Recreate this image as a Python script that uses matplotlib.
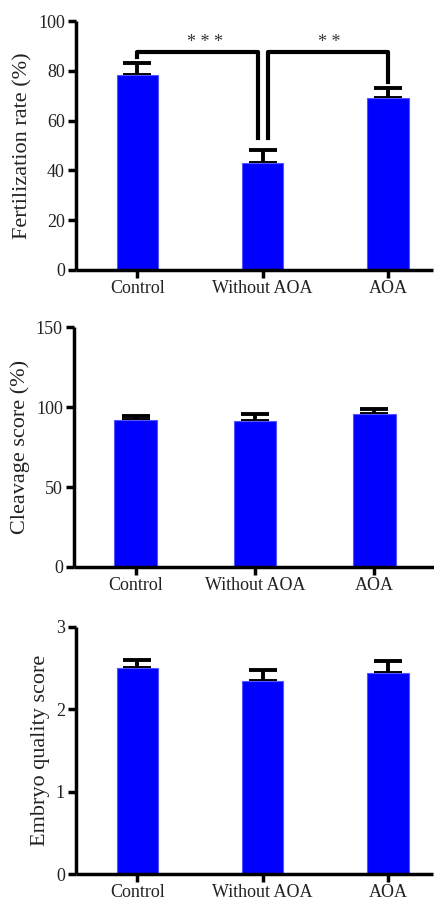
import matplotlib
matplotlib.use("Agg")
import matplotlib.pyplot as plt

plt.rcParams['font.family'] = ['Liberation Serif', 'DejaVu Serif']

groups = ["Control", "Without AOA", "AOA"]

fert_mean = [78.4, 42.8, 69.2]
fert_err = [4.7, 5.4, 4.0]

cleav_mean = [92.0, 91.3, 95.7]
cleav_err = [2.5, 4.4, 3.1]

embryo_mean = [2.50, 2.34, 2.44]
embryo_err = [0.10, 0.14, 0.15]

panels = [
    dict(mean=fert_mean, err=fert_err, ylabel="Fertilization rate (%)",
         ylim=(0, 100), yticks=[0, 20, 40, 60, 80, 100],
         rect=[0.175, 0.7007, 0.823, 0.276], xlim=(-0.49, 2.36), width=0.33),
    dict(mean=cleav_mean, err=cleav_err, ylabel="Cleavage score (%)",
         ylim=(0, 150), yticks=[0, 50, 100, 150],
         rect=[0.1705, 0.3714, 0.8295, 0.266], xlim=(-0.517, 2.5), width=0.36),
    dict(mean=embryo_mean, err=embryo_err, ylabel="Embryo quality score",
         ylim=(0, 3), yticks=[0, 1, 2, 3],
         rect=[0.175, 0.031, 0.823, 0.274], xlim=(-0.49, 2.36), width=0.33),
]

fig = plt.figure(figsize=(4.34, 9.02), dpi=100)
axes = []
for p in panels:
    ax = fig.add_axes(p["rect"])
    x = list(range(len(groups)))
    ax.bar(x, p["mean"], width=p["width"], color="#0000FF", edgecolor="#5555FF",
           linewidth=0.8, zorder=2)
    ax.errorbar(x, p["mean"], yerr=[[0] * 3, p["err"]], fmt="none", ecolor="black",
                elinewidth=2.8, capsize=10, capthick=2.8, zorder=1)
    ax.set_xlim(*p["xlim"])
    ax.set_ylim(*p["ylim"])
    ax.set_yticks(p["yticks"])
    ax.set_xticks(x)
    ax.set_xticklabels(groups)
    ax.set_ylabel(p["ylabel"], fontsize=16, labelpad=4, color="#222222")
    for s in ["top", "right"]:
        ax.spines[s].set_visible(False)
    for s in ["left", "bottom"]:
        ax.spines[s].set_linewidth(2.5)
        ax.spines[s].set_capstyle("butt")
    ax.tick_params(axis="both", width=2.5, length=6, labelsize=13, pad=2,
                   colors="black", labelcolor="#222222")
    ax.tick_params(axis="x", pad=1)
    axes.append(ax)

# significance brackets on first panel
ax = axes[0]
lw = 3
ax.plot([0, 0, 1 - 0.04, 1 - 0.04], [85.5, 87.4, 87.4, 53], color="black", lw=lw,
        solid_joinstyle="round", zorder=3)
ax.plot([1 + 0.04, 1 + 0.04, 2, 2], [53, 87.4, 87.4, 75.6], color="black", lw=lw,
        solid_joinstyle="round", zorder=3)
ax.text(0.54, 88.0, "* * *", ha="center", va="bottom", fontsize=13, color="#333333")
ax.text(1.53, 88.0, "* *", ha="center", va="bottom", fontsize=13, color="#333333")

fig.savefig("out.png", dpi=100)
